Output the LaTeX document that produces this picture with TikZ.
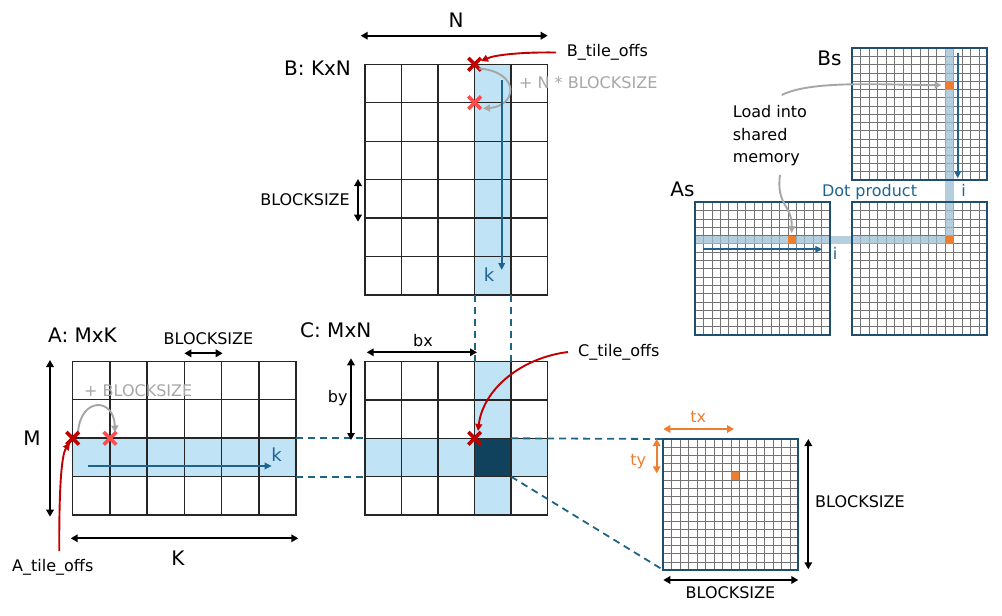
\documentclass[tikz,border=0pt]{standalone}
\usepackage{fontspec}
\setmainfont{DejaVu Sans}
\usetikzlibrary{arrows.meta,shapes.misc}
\definecolor{lblue}{HTML}{C0E4F5}
\definecolor{dcell}{HTML}{10425E}
\definecolor{dblue}{HTML}{1F6391}
\definecolor{dashc}{HTML}{1F6485}
\definecolor{rdark}{HTML}{C00000}
\definecolor{rlight}{HTML}{FF4B4B}
\definecolor{gry}{HTML}{A6A6A6}
\definecolor{orng}{HTML}{ED7D31}
\definecolor{bandc}{HTML}{9DBFD3}
\definecolor{framec}{HTML}{1F4E6E}
\newcommand{\mygrid}[5]{% style, nx, ny (in scaled units)
  \foreach \i in {0,...,#2} \draw[#1] (\i,0) -- (\i,#3);
  \foreach \j in {0,...,#3} \draw[#1] (0,\j) -- (#2,\j);}
\begin{document}
\begin{tikzpicture}[x=1pt,y=-1pt,
  lbl/.style={font=\fontsize{16}{19}\selectfont, inner sep=0pt},
  big/.style={font=\fontsize{20}{24}\selectfont, inner sep=0pt},
  tip/.tip={Triangle[width=7.5pt,length=7pt]},
  dim/.style={tip-tip, line width=2pt, black},
  gridl/.style={line width=1.4pt, color=black!85, line cap=rect},
  fine/.style={line width=0.55pt, color=black!55},
  framel/.style={line width=2pt, draw=framec},
  dashl/.style={line width=1.8pt, draw=dashc, dash pattern=on 7pt off 5pt},
  blarr/.style={-{Triangle[width=6.5pt,length=7pt]}, line width=1.9pt, draw=dblue},
  redarr/.style={-{Triangle[width=7pt,length=7pt]}, line width=1.9pt, draw=rdark},
  grarr/.style={-{Triangle[width=7pt,length=7pt]}, line width=1.9pt, draw=gry},
  xmk/.style={cross out, draw=#1, line width=3.6pt, minimum size=9pt, inner sep=0pt}]
\useasboundingbox (0,0) rectangle (1002,616);

% ---------------- Matrix B ----------------
\fill[lblue] (474.6,64.3) rectangle (511.2,295);
\begin{scope}[shift={(365,64.3)}, x=36.54pt, y=-38.45pt]
  \mygrid{gridl}{5}{6}{}{}
\end{scope}
% ---------------- Matrix A ----------------
\fill[lblue] (72.7,438.3) rectangle (296,476.7);
\begin{scope}[shift={(72.7,361.3)}, x=37.22pt, y=-38.43pt]
  \mygrid{gridl}{6}{4}{}{}
\end{scope}
% ---------------- Matrix C ----------------
\fill[lblue] (474.6,361.7) rectangle (511.2,515);
\fill[lblue] (365,438.3) rectangle (547.7,476.7);
\fill[dcell] (474.6,438.3) rectangle (511.2,476.7);
\begin{scope}[shift={(365,361.7)}, x=36.54pt, y=-38.33pt]
  \mygrid{gridl}{5}{4}{}{}
\end{scope}

% dashed connectors
\coordinate (b1) at (474.6,295); \coordinate (c1) at (474.6,361.7);
\coordinate (b2) at (511.2,295); \coordinate (c2) at (511.2,361.7);
\coordinate (a1) at (296,438.3); \coordinate (c3) at (365,438.3);
\coordinate (a2) at (296,476.7); \coordinate (c4) at (365,476.7);
\coordinate (c5) at (511.2,438.3); \coordinate (t1) at (663.3,439);
\coordinate (c6) at (511.2,476.7); \coordinate (t2) at (663.3,570);
\draw[dashl] (b1) -- (c1);
\draw[dashl] (b2) -- (c2);
\draw[dashl] (a1) -- (c3);
\draw[dashl] (a2) -- (c4);
\draw[dashl] (c5) -- (t1);
\draw[dashl] (c6) -- (t2);

% ---------------- Tile ----------------
\begin{scope}[shift={(663.3,439)}, x=8.4375pt, y=-8.1875pt]
  \mygrid{fine}{16}{16}{}{}
  \fill[orng] (8,4) rectangle (9,5);
  \draw[framel] (0,0) rectangle (16,16);
\end{scope}

% ---------------- Shared memory ----------------
\begin{scope}[shift={(852.3,48.3)}, x=8.4375pt, y=-8.23pt]
  \mygrid{fine}{16}{16}{}{}
\end{scope}
\begin{scope}[shift={(695,202.3)}, x=8.4375pt, y=-8.29pt]
  \mygrid{fine}{16}{16}{}{}
\end{scope}
\begin{scope}[shift={(852.3,202.3)}, x=8.4375pt, y=-8.29pt]
  \mygrid{fine}{16}{16}{}{}
\end{scope}
\fill[bandc, opacity=0.75] (695,235.5) rectangle (945.1,243.8);
\fill[bandc, opacity=0.75] (945.1,48.3) rectangle (953.6,243.8);
\fill[orng] (787.8,235.5) rectangle (796.2,243.8);
\fill[orng] (945.1,81.2) rectangle (953.6,89.4);
\fill[orng] (945.1,235.5) rectangle (953.6,243.8);
\draw[framel] (852.3,48.3) rectangle (987.3,180);
\draw[framel] (695,202.3) rectangle (830,335);
\draw[framel] (852.3,202.3) rectangle (987.3,335);

\coordinate (asa) at (702.7,249.3); \coordinate (asb) at (822.3,249.3);
\coordinate (bsa) at (957.7,52.7); \coordinate (bsb) at (957.7,178.3);
\draw[blarr] (asa) -- (asb);
\draw[blarr] (bsa) -- (bsb);
\node[lbl, text=dblue] (ia) at (835,253) {i};
\node[lbl, text=dblue] (ib) at (963.5,190) {i};
\node[lbl, text=dblue] (dot) at (869.5,191.7) {Dot product};
\node[big] (bs) at (829.5,58.3) {Bs};
\node[big] (as) at (682.5,189.3) {As};
\node[lbl, align=left, anchor=west, font=\fontsize{16}{22.8}\selectfont] (load) at (732.7,135.7) {Load into\\shared\\memory};
\coordinate (ld1) at (781.7,95); \coordinate (ld2) at (941.5,85);
\coordinate (ld3) at (780,175); \coordinate (ld4) at (791.7,233);
\draw[grarr] (ld1) .. controls (812,80) and (880,85) .. (ld2);
\draw[grarr] (ld3) .. controls (776,205) and (792,205) .. (ld4);

% ---------------- B labels ----------------
\coordinate (na) at (360.7,35.7); \coordinate (nb) at (547.7,35.7);
\draw[dim] (na) -- (nb);
\node[big] (nlab) at (456,20) {N};
\node[big, anchor=west] (blab) at (284,68) {B: KxN};
\node[lbl, anchor=west] (btile) at (566.7,52.7) {B\_tile\_offs};
\node[xmk=rdark] (bx1) at (474.6,64.3) {};
\node[xmk=rlight] (bx2) at (474.6,102.7) {};
\draw[redarr] (556,52.5) .. controls (520,52) and (495,55) .. (481,61);
\draw[grarr] (479,68.5) .. controls (521,72) and (517,106) .. (483,108.5);
\node[lbl, text=gry, anchor=west] (bplus) at (519,83) {+ N * BLOCKSIZE};
\coordinate (bka) at (501.7,80); \coordinate (bkb) at (501.7,270);
\draw[blarr] (bka) -- (bkb);
\node[lbl, text=dblue, font=\fontsize{18}{21}\selectfont] (bk) at (489,275) {k};
\coordinate (bba) at (358,179); \coordinate (bbb) at (358,221.7);
\draw[dim] (bba) -- (bbb);
\node[lbl, anchor=east] (bblk) at (350,200) {BLOCKSIZE};

% ---------------- A labels ----------------
\node[big, anchor=west] (alab) at (48,335) {A: MxK};
\node[lbl] (ablk) at (208.5,339) {BLOCKSIZE};
\coordinate (aba) at (184.3,353.3); \coordinate (abb) at (222.7,353.3);
\draw[dim] (aba) -- (abb);
\node[lbl, text=gry, anchor=west] (aplus) at (84,390.7) {+ BLOCKSIZE};
\draw[grarr] (78,433) .. controls (80,397) and (114,397) .. (115,432.5);
\coordinate (ama) at (50,360); \coordinate (amb) at (50,516.7);
\draw[dim] (ama) -- (amb);
\node[big] (mlab) at (32,438) {M};
\coordinate (aka) at (70.7,538.3); \coordinate (akb) at (298.3,538.3);
\draw[dim] (aka) -- (akb);
\node[big] (klab) at (178,558) {K};
\coordinate (akka) at (88.3,466); \coordinate (akkb) at (271.7,466);
\draw[blarr] (akka) -- (akkb);
\node[lbl, text=dblue, font=\fontsize{18}{21}\selectfont] (ak) at (276.5,455) {k};
\node[lbl] (atile) at (52.8,567.7) {A\_tile\_offs};
\node[xmk=rdark] (ax1) at (72.7,438.3) {};
\node[xmk=rlight] (ax2) at (110,438.3) {};
\draw[redarr] (59.3,551) .. controls (59,495) and (61,455) .. (70,443);

% ---------------- C labels ----------------
\node[big, anchor=west] (clab) at (300,330) {C: MxN};
\coordinate (cxa) at (366.7,352.3); \coordinate (cxb) at (477,352.3);
\draw[dim] (cxa) -- (cxb);
\node[lbl] (bxl) at (423,340.7) {bx};
\coordinate (cya) at (351,358.3); \coordinate (cyb) at (351,440);
\draw[dim] (cya) -- (cyb);
\node[lbl] (byl) at (337.7,398) {by};
\node[lbl, anchor=west] (ctile) at (578,352.7) {C\_tile\_offs};
\node[xmk=rdark] (cx1) at (474.6,438.3) {};
\draw[redarr] (568,352) .. controls (520,358) and (483,390) .. (478,431);

% ---------------- Tile labels ----------------
\coordinate (txa) at (663.3,429); \coordinate (txb) at (734,429);
\draw[dim, orng] (txa) -- (txb);
\node[lbl, text=orng] (txl) at (698.3,416.7) {tx};
\coordinate (tya) at (656.7,439); \coordinate (tyb) at (656.7,473.3);
\draw[dim, orng] (tya) -- (tyb);
\node[lbl, text=orng] (tyl) at (638.3,461.7) {ty};
\coordinate (tra) at (808.3,439); \coordinate (trb) at (808.3,569.3);
\draw[dim] (tra) -- (trb);
\node[lbl, anchor=west] (trl) at (815,501.7) {BLOCKSIZE};
\coordinate (tba) at (663.3,580); \coordinate (tbb) at (798.3,580);
\draw[dim] (tba) -- (tbb);
\node[lbl] (tbl) at (730.5,593) {BLOCKSIZE};
\end{tikzpicture}
\end{document}
